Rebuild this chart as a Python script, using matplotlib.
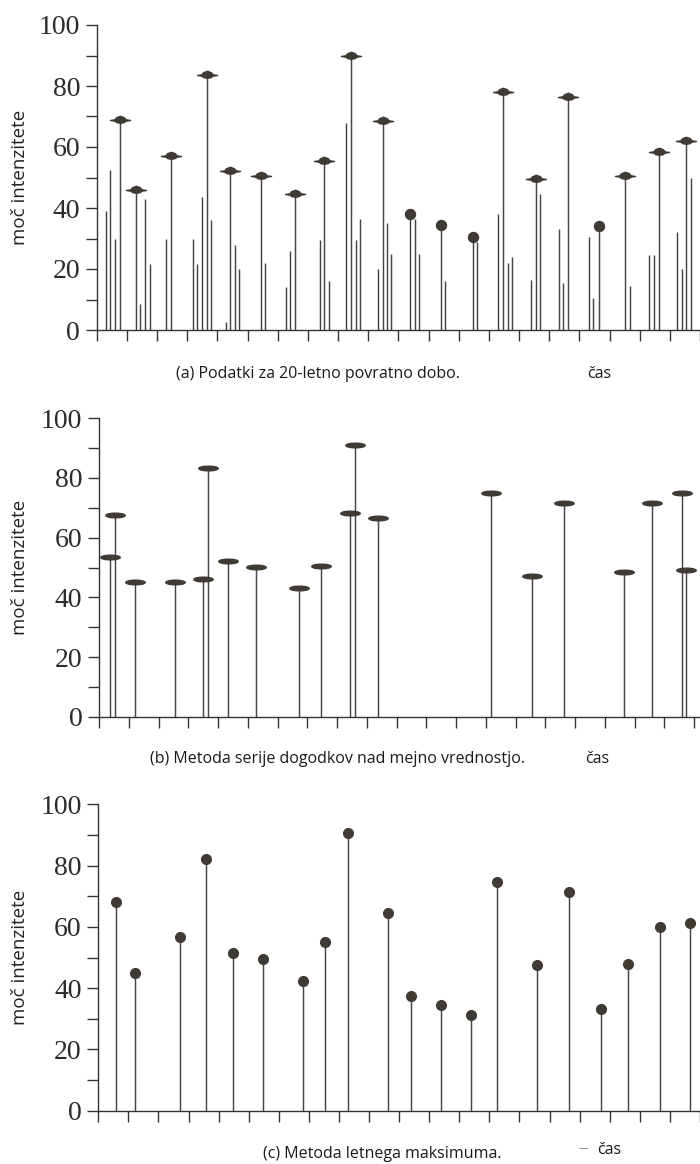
import numpy as np
import matplotlib
matplotlib.use('Agg')
import matplotlib.pyplot as plt
from matplotlib.path import Path

# ─── Data ───

# (a) all events over 20 years
a_times = [0.30, 0.45, 0.60, 0.77,
           1.29, 1.44, 1.60, 1.76,
           2.31, 2.46,
           3.18, 3.34, 3.50, 3.66, 3.80,
           4.28, 4.43, 4.59, 4.73,
           5.45, 5.57,
           6.27, 6.42, 6.59,
           7.39, 7.55, 7.70,
           8.28, 8.43, 8.58, 8.74,
           9.31, 9.48, 9.63, 9.77,
           10.38, 10.54, 10.69,
           11.40, 11.54,
           12.46, 12.62,
           13.32, 13.48, 13.62, 13.78,
           14.40, 14.56, 14.71,
           15.32, 15.47, 15.63,
           16.31, 16.46, 16.64,
           17.53, 17.68,
           18.32, 18.47, 18.63,
           19.24, 19.39, 19.55, 19.70]
a_values = [39.0, 52.5, 30.0, 69.0,
            46.0, 8.5, 43.0, 21.5,
            30.0, 57.0,
            30.0, 21.5, 43.5, 83.5, 36.0,
            2.7, 52.0, 28.0, 20.0,
            50.5, 22.0,
            14.0, 26.0, 44.5,
            29.5, 55.5, 16.0,
            68.0, 90.0, 29.5, 36.5,
            20.0, 68.5, 35.0, 25.0,
            38.0, 36.5, 25.0,
            34.5, 16.0,
            30.5, 29.0,
            38.0, 78.0, 22.0, 24.0,
            16.5, 49.5, 44.5,
            33.0, 15.5, 76.5,
            30.5, 10.5, 34.0,
            50.5, 14.5,
            24.5, 24.5, 58.5,
            32.0, 20.0, 62.0, 50.0]
threshold = 40

# (b) peaks over threshold
b_times = [0.38, 0.54, 1.20, 2.54, 3.51, 3.68, 4.35, 5.27, 6.72, 7.47,
           8.45, 8.62, 9.37, 13.19, 14.55, 15.62, 17.65, 18.60, 19.60, 19.74]
b_values = [53.5, 67.5, 45.3, 45.3, 46.0, 83.5, 52.2, 50.3, 43.2, 50.5,
            68.4, 91.0, 66.5, 75.0, 47.0, 71.5, 48.4, 71.5, 75.0, 49.0]

# (c) annual maxima
c_times = [0.60, 1.23, 2.71, 3.57, 4.47, 5.46, 6.79, 7.55, 8.31, 9.63,
           10.41, 11.38, 12.39, 13.25, 14.57, 15.63, 16.72, 17.60, 18.66, 19.68]
c_values = [68.0, 45.0, 56.6, 82.3, 51.4, 49.4, 42.4, 55.1, 90.6, 64.6,
            37.4, 34.4, 31.2, 74.6, 47.7, 71.4, 33.1, 48.0, 59.9, 61.2]

y_ticks = [0, 20, 40, 60, 80, 100]
years = 20

captions = ["(a) Podatki za 20-letno povratno dobo.",
            "(b) Metoda serije dogodkov nad mejno vrednostjo.",
            "(c) Metoda letnega maksimuma."]
ylabel = "moč intenzitete"

W, H = 700, 1164
STEM = "#454545"
MARK = "#3f3a33"
AXC = "#333333"

saucer = Path([(-1, 0), (-0.55, 0.07), (-0.38, 0.28), (0, 0.42), (0.38, 0.28),
               (0.55, 0.07), (1, 0), (0.55, -0.07), (0.35, -0.22), (0, -0.28),
               (-0.35, -0.22), (-0.55, -0.07), (-1, 0)], closed=True)
disk = Path([(np.cos(t), 0.24 * np.sin(t)) for t in np.linspace(0, 2 * np.pi, 40)],
            closed=True)


def make_axes(left_px, zero_px, top_px, px_per_year):
    left = left_px / W
    width = (W - left_px) / W
    bottom = 1 - zero_px / H
    height = (zero_px - top_px) / H
    ax = fig.add_axes([left, bottom, width, height])
    ax.set_xlim(0, (W - left_px) / px_per_year)
    ax.set_ylim(0, 100)
    for s in ["top", "right"]:
        ax.spines[s].set_visible(False)
    for s in ["left", "bottom"]:
        ax.spines[s].set_color(AXC)
        ax.spines[s].set_linewidth(1.0)
    ax.set_xticks(np.arange(0, years + 1))
    ax.set_xticklabels([])
    ax.set_yticks(y_ticks)
    ax.set_yticks(np.arange(10, 100, 20), minor=True)
    ax.tick_params(axis="both", which="both", direction="out", length=8,
                   width=1.0, color=AXC)
    ax.tick_params(axis="y", labelsize=20, labelcolor="#2b2b2b", pad=4)
    for lab in ax.get_yticklabels():
        lab.set_family("Liberation Serif")
    ax.set_ylabel(ylabel, fontsize=13.5, family="Open Sans", color="#222222")
    ax.yaxis.set_label_coords(-(left_px - 29) / (W - left_px), 0.5)
    return ax


fig = plt.figure(figsize=(W / 100, H / 100), dpi=100)

# ─── (a) ───
ax = make_axes(96.7, 330, 25, 30.35)
t = np.array(a_times)
v = np.array(a_values)
ax.vlines(t, 0, v, color=STEM, lw=1.05)
yr = np.floor(t).astype(int)
for y in np.unique(yr):
    m = yr == y
    i = np.argmax(v[m])
    tx, vx = t[m][i], v[m][i]
    if vx >= threshold:
        ax.plot(tx, vx, marker=saucer, ms=14.5, color=MARK, mec=MARK, clip_on=False)
    else:
        ax.plot(tx, vx, marker="o", ms=7.2, color=MARK, mec=MARK, clip_on=False)

# ─── (b) ───
ax = make_axes(99, 716.7, 418.3, 29.75)
ax.vlines(b_times, 0, b_values, color=STEM, lw=1.05)
ax.plot(b_times, b_values, ls="none", marker=disk, ms=14, color=MARK, mec=MARK,
        clip_on=False)

# ─── (c) ───
ax = make_axes(98.3, 1110.7, 804.3, 30.4)
ax.vlines(c_times, 0, c_values, color=STEM, lw=1.05)
ax.plot(c_times, c_values, ls="none", marker="o", ms=7, color=MARK, mec=MARK,
        clip_on=False)

# captions and time labels
cap_pos = [(318, 374), (338, 759), (382, 1154)]
cas_pos = [(599, 374), (597, 759), (609, 1150)]
for (cx, cy), cap in zip(cap_pos, captions):
    fig.text(cx / W, 1 - cy / H, cap, ha="center", va="center",
             fontsize=11.5, family="Open Sans", color="#1a1a1a")
for cx, cy in cas_pos:
    fig.text(cx / W, 1 - cy / H, "čas", ha="center", va="center",
             fontsize=11.5, family="Open Sans", color="#1a1a1a")
fig.text(583 / W, 1 - 1149 / H, "—", ha="center", va="center",
         fontsize=7, family="Open Sans", color="#777777")

fig.savefig("out.png", dpi=100)
